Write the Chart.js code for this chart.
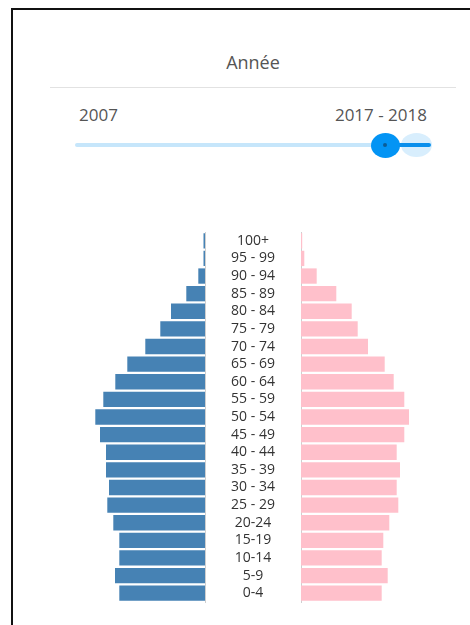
<!DOCTYPE html>
<html>
<head>
<meta charset="utf-8">
<script src="https://cdn.jsdelivr.net/npm/chart.js@4"></script>
<style>
  html,body{margin:0;padding:0;background:#fff;width:470px;height:625px;overflow:hidden;font-family:'Open Sans',sans-serif;}
  .abs{position:absolute;}
  #frame{left:11px;top:8px;width:470px;height:640px;border-top:2px solid #111;border-left:2px solid #111;}
  #title{left:0;width:506px;top:51px;text-align:center;font-size:18px;color:#555;line-height:22px;}
  #sep{left:50px;top:87px;width:406px;height:1px;background:#e2e2e2;}
  #y0{left:79px;top:105px;font-size:17px;color:#555;line-height:20px;}
  #y1{left:300px;width:127px;text-align:right;top:105px;font-size:17px;color:#555;line-height:20px;}
  #track{left:75px;top:143px;width:320px;height:4px;border-radius:2px;background:#c6e6fb;}
  #pale{left:401px;top:133px;width:31px;height:24px;border-radius:50%;background:#d8eefd;}
  #dark{left:390px;top:143px;width:41px;height:4px;border-radius:2px;background:#0a8fec;}
  #handle{left:371px;top:133px;width:29px;height:25px;border-radius:50%;background:#0394f4;}
  #dot{left:383px;top:143px;width:4px;height:4px;border-radius:50%;background:#0b5d96;}
  canvas{position:absolute;}
</style>
</head>
<body>
<div id="frame" class="abs"></div>
<div id="title" class="abs">Année</div>
<div id="sep" class="abs"></div>
<div id="y0" class="abs">2007</div>
<div id="y1" class="abs">2017 - 2018</div>
<div id="track" class="abs"></div>
<div id="pale" class="abs"></div>
<div id="dark" class="abs"></div>
<div id="handle" class="abs"></div>
<div id="dot" class="abs"></div>
<canvas id="left" width="216" height="390" style="left:85px;top:220px;"></canvas>
<canvas id="right" width="125" height="390" style="left:301px;top:220px;"></canvas>
<script>
const ageGroups = ["100+","95 - 99","90 - 94","85 - 89","80 - 84","75 - 79","70 - 74","65 - 69","60 - 64","55 - 59","50 - 54","45 - 49","40 - 44","35 - 39","30 - 34","25 - 29","20-24","15-19","10-14","5-9","0-4"];
const male   = [1.5, 1.5, 6.7, 18.7, 34, 44.7, 59.7, 77.7, 89.7, 101.7, 109.7, 105, 99, 99, 96, 97.7, 91.7, 85.7, 85.7, 90, 85.7];
const female = [1.2, 3.3, 15.7, 35.3, 50.7, 56.7, 67, 83.7, 92.7, 103.3, 108, 103.3, 95.7, 99, 95.7, 97.3, 88.3, 82.3, 80.7, 86.7, 80.7];
const maleColor = '#4682b4';
const femaleColor = '#ffc0cb';

const labelFont = { family: 'Open Sans', size: 14 };
const labelAreaWidth = 96;
// compute padding so that labels are centred in the middle gap
const mctx = document.createElement('canvas').getContext('2d');
mctx.font = labelFont.size + 'px "' + labelFont.family + '"';
const widest = Math.max(...ageGroups.map(l => mctx.measureText(l).width));
const labelPad = labelAreaWidth / 2 - widest / 2;

const common = {
  indexAxis: 'y',
  responsive: false,
  animation: false,
  events: [],
  plugins: { legend: { display: false }, tooltip: { enabled: false } },
  layout: { padding: { top: 12, bottom: 8, left: 0, right: 0 } }
};

new Chart(document.getElementById('left'), {
  type: 'bar',
  data: { labels: ageGroups, datasets: [{ data: male, backgroundColor: maleColor, barPercentage: 0.87, categoryPercentage: 1 }] },
  options: Object.assign({}, common, {
    scales: {
      x: { display: false, reverse: true, min: 0, max: 120 },
      y: {
        position: 'right',
        grid: { display: false, drawTicks: false },
        border: { display: true, dash: [2, 2], color: '#cfcfcf' },
        ticks: { autoSkip: false, crossAlign: 'center', padding: labelPad, color: '#333', font: labelFont },
        afterFit(s) { s.width = labelAreaWidth; s.paddingTop = 0; s.paddingBottom = 0; }
      }
    }
  })
});

new Chart(document.getElementById('right'), {
  type: 'bar',
  data: { labels: ageGroups, datasets: [{ data: female, backgroundColor: femaleColor, barPercentage: 0.87, categoryPercentage: 1 }] },
  options: Object.assign({}, common, {
    scales: {
      x: { display: false, min: 0, max: 125 },
      y: {
        position: 'left',
        grid: { display: false, drawTicks: false },
        border: { display: true, dash: [2, 2], color: '#cfcfcf' },
        ticks: { display: false },
        afterFit(s) { s.width = 0; s.paddingTop = 0; s.paddingBottom = 0; }
      }
    }
  })
});
</script>
</body>
</html>
